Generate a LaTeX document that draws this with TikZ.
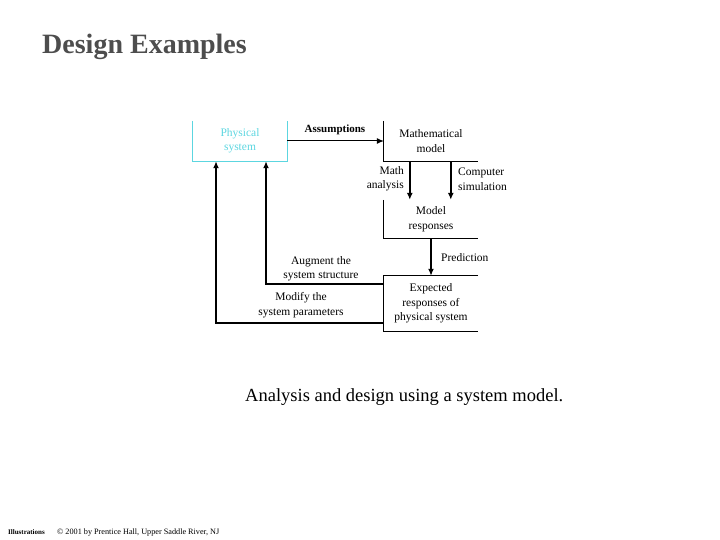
\documentclass[tikz,border=0pt]{standalone}
\usepackage{fontspec}
\setmainfont{Liberation Serif}
\usetikzlibrary{positioning, arrows.meta}

\definecolor{titlegray}{HTML}{4D4D4D}
\definecolor{physcyan}{HTML}{5CD6E0}

\tikzset{
    blocktext/.style={minimum width=94pt, align=center, font=\fontsize{11.5}{14.5}\selectfont, inner sep=0pt},
    lbl/.style={align=center, font=\fontsize{11.5}{14.5}\selectfont, inner sep=0pt},
    edge/.style={line width=0.8pt},
    tip/.style={-{Latex[length=7pt, width=6pt]}},
    flow/.style={tip, line width=1.8pt},
    feedback/.style={tip, line width=1.6pt}
}

\begin{document}
\begin{tikzpicture}[x=1pt, y=-1pt]
        \useasboundingbox (0,0) rectangle (720,540);

        % Title
        \node[anchor=west, inner sep=0pt, text=titlegray, font=\fontsize{28}{32}\selectfont\bfseries] (title) at (42,47) {Design Examples};

        % Blocks
        \node[blocktext, minimum height=40pt, text=physcyan] (phys) at (240,141) {Physical\\system};
        \node[blocktext, minimum height=40pt] (math) at (431,141) {Mathematical\\model};
        \node[blocktext, minimum height=38pt] (resp) at (431,219) {Model\\responses};
        \node[blocktext, minimum height=55pt] (expect) at (431,303.5) {Expected\\responses of\\physical system};

        % open box edges
        \draw[edge, physcyan] (phys.north west) -- (phys.south west) -- (phys.south east) -- (phys.north east);
        \draw[edge] (math.north west) -- (math.south west) -- (math.south east);
        \draw[edge] (resp.north west) -- (resp.south west) -- (resp.south east);
        \draw[edge] (expect.north east) -- (expect.north west) -- (expect.south west) -- (expect.south east);

        % Forward path
        \draw[tip, line width=1pt] (phys.east) -- (math.west);
        \draw[flow, line width=2.4pt] ([xshift=26]math.south west) -- ([xshift=26]resp.north west);
        \draw[flow, line width=1.4pt] ([xshift=67]math.south west) -- ([xshift=67]resp.north west);
        \draw[flow] (resp.south) -- (expect.north);

        % Feedback paths
        \draw[feedback] ([yshift=-8]expect.north west) -| ([xshift=26]phys.south);
        \draw[feedback] ([yshift=8]expect.south west) -| ([xshift=-24]phys.south);

        % Labels
        \node[lbl, font=\fontsize{11}{14}\selectfont\bfseries] (assume) at (335,130) {Assumptions};
        \node[lbl, anchor=east, align=right] (mathan) at (404,179) {Math\\analysis};
        \node[lbl, anchor=west, align=left] (compsim) at (458,179) {Computer\\simulation};
        \node[lbl, anchor=west] (predict) at (441,258) {Prediction};
        \node[lbl] (augment) at (321,269) {Augment the\\system structure};
        \node[lbl] (modify) at (301,305) {Modify the\\system parameters};

        % Caption
        \node[anchor=west, inner sep=0pt, font=\fontsize{18.5}{21}\selectfont] (caption) at (245,397) {Analysis and design using a system model.};

        % Footer
        \node[anchor=base west, inner sep=0pt, font=\fontsize{7}{8}\selectfont\bfseries] (illus) at (8,534) {Illustrations};
        \node[anchor=base west, inner sep=0pt, font=\fontsize{8.2}{9}\selectfont] (copy) at (57,534) {\textcopyright{} 2001 by Prentice Hall, Upper Saddle River, NJ};
    \end{tikzpicture}
\end{document}
